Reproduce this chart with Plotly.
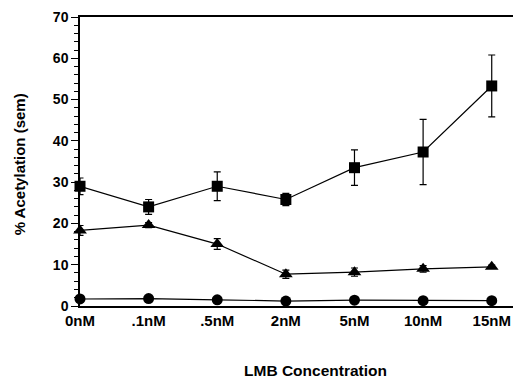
import plotly.graph_objects as go

categories = ["0nM", ".1nM", ".5nM", "2nM", "5nM", "10nM", "15nM"]

square_vals = [29.0, 24.0, 29.0, 25.8, 33.5, 37.3, 53.3]
square_err = [2.0, 1.8, 3.5, 1.5, 4.3, 7.9, 7.5]

triangle_vals = [18.3, 19.6, 15.0, 7.7, 8.2, 9.0, 9.5]
triangle_err = [1.2, 0.6, 1.3, 1.0, 1.0, 0.8, 0.4]

circle_vals = [1.7, 1.8, 1.5, 1.2, 1.4, 1.3, 1.3]
circle_err = [0.3, 0.3, 0.3, 0.3, 0.3, 0.3, 0.3]

y_ticks = [0, 10, 20, 30, 40, 50, 60, 70]

FONT = "Liberation Sans, Arial, sans-serif"

fig = go.Figure()

def add_series(vals, errs, symbol, size):
    fig.add_trace(go.Scatter(
        x=categories, y=vals, mode="lines+markers",
        line=dict(color="black", width=1.2),
        marker=dict(symbol=symbol, size=size, color="black"),
        error_y=dict(type="data", array=errs, visible=True,
                     color="black", thickness=1.2, width=3.5),
        cliponaxis=False, showlegend=False,
    ))

add_series(circle_vals, circle_err, "circle", 11)
add_series(triangle_vals, triangle_err, "triangle-up", 12)
add_series(square_vals, square_err, "square", 11)

fig.update_layout(
    width=513, height=381,
    margin=dict(l=80, r=0, t=17, b=75),
    paper_bgcolor="white", plot_bgcolor="white",
    font=dict(family=FONT, color="black"),
    xaxis=dict(
        type="category", range=[0, 6.31],
        showline=True, linecolor="black", linewidth=1.5, mirror=True,
        showgrid=False, zeroline=False, ticks="",
        tickfont=dict(family=FONT, size=15, color="black", weight="bold"),
    ),
    yaxis=dict(
        range=[0, 70], tickvals=y_ticks,
        showline=True, linecolor="black", linewidth=1.5,
        showgrid=False, zeroline=False,
        ticks="outside", ticklen=7, tickwidth=1.3, tickcolor="black",
        minor=dict(dtick=2, ticks="outside", ticklen=4, tickwidth=1.2, tickcolor="black"),
        tickfont=dict(family=FONT, size=14, color="black", weight="bold"),
    ),
    annotations=[
        dict(text="LMB Concentration", xref="paper", yref="paper",
             x=0.545, y=-0.222, xanchor="center", yanchor="middle",
             showarrow=False, font=dict(family=FONT, size=15.5, color="black", weight="bold")),
        dict(text="% Acetylation (sem)", xref="paper", yref="paper",
             x=-0.141, y=0.49, xanchor="center", yanchor="middle", textangle=-90,
             showarrow=False, font=dict(family=FONT, size=15, color="black", weight="bold")),
    ],
)

fig.write_html("out.html")
